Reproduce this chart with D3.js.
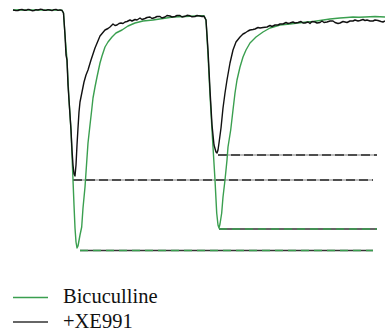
<!DOCTYPE html>
<html>
<head>
<meta charset="utf-8">
<script src="https://cdn.jsdelivr.net/npm/d3@7"></script>
<style>
  html, body { margin: 0; padding: 0; background: #fff; }
  svg { display: block; }
</style>
</head>
<body>
<svg id="chart" width="385" height="334"></svg>
<script>
// Paired-pulse EPSC recordings: time (ms) and current (pA)
const seriesNames = ["Bicuculline", "+XE991"];
const seriesColors = ["#3a9f4f", "#111111"];

const bicucullineTrace = [
  [0,0],[7,0.4],[14,-0.3],[21,0.3],[28,-0.2],[35,0.2],[42,-0.3],[49,-0.4],
  [50.5,-6],[52,-50],[54,-100],[56,-180],[58,-240],[59,-290],[60,-340],[61,-390],
  [62,-436],[63,-464],[64,-476],[65,-472],[67,-450],[68.7,-434],[70,-396],[72,-354],
  [73.5,-310],[75,-266],[77,-230],[78.7,-200],[80,-176],[82,-154],[84,-134],[87,-106],
  [89,-92],[92,-74],[95,-64],[99,-54],[103,-46],[109,-40],[115,-32],[122,-26],
  [130,-22],[140,-20],[150,-17],[160,-14],[172,-13],[182,-12],[187,-11.4],[191,-11.6],
  [193,-20],[195,-90],[197,-170],[199,-240],[200,-274],[202,-340],[203.7,-406],[205,-430],
  [206,-436],[207,-428],[208.7,-406],[210,-374],[212,-340],[214,-300],[215,-274],[217.7,-240],
  [220,-200],[222,-166],[224,-140],[227,-114],[230,-94],[233,-80],[237,-66],[243,-54],
  [250,-44],[257,-36],[267,-30],[277,-28],[285,-26],[294,-24],[300,-23],[307,-21],
  [317,-18],[327,-16],[334,-15],[340,-14],[346,-14.6],[352,-14],[362,-13],[367,-13.6],[372,-14]
];

const xe991Trace = [
  [0,0],[3,-1.2],[5,-1],[7,0.8],[9,1],[11,-0.4],[13,-0.6],[15,1.2],[17,0.4],[19,-1.4],
  [21,-1.2],[23,0.6],[25,0],[27,1.4],[29,1.2],[31,-0.6],[33,-0.8],[35,0.8],[37,0],
  [39,-1.2],[41,0.8],[43,1.2],[45,-0.8],[47,0.4],[49,-1],
  [50.5,-6],[52,-50],[53,-90],[54,-100],[55,-150],[56,-180],[57,-210],[58,-240],
  [59,-280],[60,-310],[61,-328],[62,-332],[63,-310],[64,-270],[65,-236],[66,-204],
  [67,-184],[69,-164],[71,-144],[73,-130],[75,-120],[78,-100],[82,-76],[87,-52],
  [92,-40],[95,-37],[97,-34],[100,-28],[102,-31],[104,-30],[106,-27],[108,-26],
  [110,-27],[112,-24],[114,-23],[117,-20],[119,-22],[122,-19],[124,-20],[127,-16],
  [129,-19],[132,-17],[134,-15],[137,-14],[139,-17],[142,-15],[144,-13],[147,-13],
  [149,-16],[152,-14],[154,-11],[157,-12],[159,-14],[162,-13],[164,-11],[167,-11],
  [169,-14],[172,-12.6],[174,-10.6],[177,-11.6],[179,-13.6],[182,-13],[184,-11],
  [187,-12],[189,-13],[191,-12.4],
  [193,-20],[195,-80],[197,-160],[199,-230],[201,-270],[203,-284],[204,-286],[205,-280],
  [206,-266],[208,-236],[210,-196],[212,-166],[214,-140],[217,-106],[220,-80],[223,-64],
  [227,-54],[230,-48],[232,-46],[235,-42],[237,-40],[240,-39],[242,-38],[245,-35],
  [247,-36],[250,-35],[254,-34],[257,-31],[259,-33],[262,-30],[265,-30],[267,-28],
  [270,-28],[273,-25],[275,-27],[277,-26],[280,-24],[282,-26],[285,-25],[288,-23],
  [290,-26],[292,-26],[295,-24],[297,-27],[299,-23],[302,-24],[304,-26],[307,-25],
  [309,-22],[311,-25],[314,-24],[317,-22],[320,-22],[322,-25],[325,-27],[327,-26],
  [330,-23],[332,-24],[334,-25],[337,-22],[340,-22],[342,-20],[345,-22],[347,-21],
  [350,-19],[352,-21],[354,-20],[357,-22],[360,-22],[362,-20],[365,-21],[368,-23],
  [370,-24],[372,-22]
];

// Peak-amplitude reference levels: [start ms, end ms, level pA, series index]
const peakLevels = [
  [60, 360, -340, 1],
  [205, 364, -290, 1],
  [206, 364, -438, 0],
  [67, 360, -481, 0]
];

const svg = d3.select("#chart");

const x = d3.scaleLinear().domain([0, 372]).range([13, 385]);
const y = d3.scaleLinear().domain([0, -500]).range([10, 260]);

const line = d3.line()
  .x(d => x(d[0]))
  .y(d => y(d[1]))
  .curve(d3.curveLinear);

// Dashed peak reference lines: a solid under-stroke with coloured dashes on top
const refs = svg.append("g").attr("class", "peak-levels");
peakLevels.forEach(p => {
  const under = p[3] === 0 ? "#333333" : "#a8a8a8";
  const over = p[3] === 0 ? seriesColors[0] : "#2a2a2a";
  refs.append("line")
    .attr("x1", x(p[0])).attr("x2", x(p[1]))
    .attr("y1", y(p[2])).attr("y2", y(p[2]))
    .attr("stroke", under).attr("stroke-width", 1.4);
  refs.append("line")
    .attr("x1", x(p[0])).attr("x2", x(p[1]))
    .attr("y1", y(p[2])).attr("y2", y(p[2]))
    .attr("stroke", over).attr("stroke-width", 1.4)
    .attr("stroke-dasharray", p[3] === 0 ? "8,5" : "9,4");
});

// Current traces
svg.append("path")
  .datum(bicucullineTrace)
  .attr("fill", "none")
  .attr("stroke", seriesColors[0])
  .attr("stroke-width", 1.4)
  .attr("stroke-linejoin", "round")
  .attr("d", line);

svg.append("path")
  .datum(xe991Trace)
  .attr("fill", "none")
  .attr("stroke", seriesColors[1])
  .attr("stroke-width", 1.4)
  .attr("stroke-linejoin", "round")
  .attr("d", line);

// Legend
const legend = svg.append("g").attr("class", "legend");
seriesNames.forEach((name, i) => {
  const ly = 297.5 + i * 24.5;
  legend.append("line")
    .attr("x1", 13).attr("x2", 48)
    .attr("y1", ly).attr("y2", ly)
    .attr("stroke", i === 0 ? seriesColors[0] : "#333333")
    .attr("stroke-width", 1.4);
  legend.append("text")
    .attr("x", 63).attr("y", ly + 5.5)
    .attr("font-family", "'Liberation Serif', 'DejaVu Serif', serif")
    .attr("font-size", 20.5)
    .attr("fill", "#111")
    .text(name);
});
</script>
</body>
</html>
